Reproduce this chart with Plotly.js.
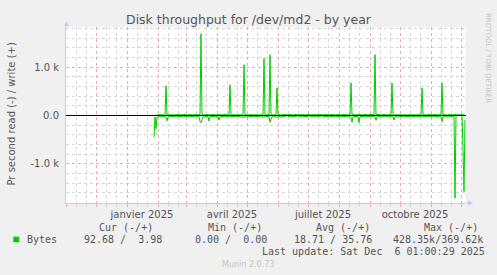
<!DOCTYPE html>
<html>
<head>
<meta charset="utf-8">
<script src="https://cdn.plot.ly/plotly-3.0.1.min.js"></script>
<style>html,body{margin:0;padding:0;background:#f0f0f0;}#chart{width:497px;height:275px;}</style>
</head>
<body>
<div id="chart"></div>
<script>
// ---- data (daily averages, Bytes per second) ----
const rangeStart = '2024-11-01';
const rangeEnd = '2025-12-06';
const firstDataDay = 88; // days after rangeStart
const writeBytes = [
  0, 5, 10, 15, 10, 20, 15, 10, 20, 15,
  10, 20, 613, 15, 10, 20, 15, 10, 20, 15,
  10, 15, 20, 10, 15, 20, 10, 15, 20, 10,
  15, 20, 10, 15, 20, 10, 15, 20, 10, 15,
  20, 10, 15, 20, 10, 15, 20, 1690, 15, 10,
  15, 20, 10, 15, 20, 10, 15, 20, 10, 15,
  20, 10, 15, 20, 10, 15, 20, 10, 15, 20,
  10, 15, 20, 10, 15, 20, 635, 15, 10, 20,
  15, 10, 20, 15, 10, 20, 15, 10, 20, 15,
  1050, 15, 10, 20, 15, 10, 20, 15, 10, 20,
  15, 10, 20, 15, 10, 20, 15, 10, 20, 15,
  1180, 15, 10, 20, 15, 10, 1257, 15, 10, 20,
  15, 10, 20, 567, 15, 10, 20, 15, 10, 20,
  15, 10, 20, 15, 10, 20, 15, 10, 20, 15,
  10, 20, 15, 10, 20, 15, 10, 20, 15, 10,
  20, 15, 10, 20, 15, 10, 20, 15, 10, 20,
  15, 10, 20, 15, 10, 20, 15, 10, 20, 15,
  10, 20, 15, 10, 20, 15, 10, 20, 15, 10,
  20, 15, 10, 20, 15, 10, 20, 15, 10, 20,
  15, 10, 20, 15, 10, 20, 15, 670, 20, 15,
  10, 20, 15, 10, 20, 15, 10, 20, 15, 10,
  20, 15, 10, 20, 15, 10, 20, 15, 10, 20,
  15, 1257, 10, 20, 15, 10, 20, 15, 10, 20,
  15, 10, 20, 15, 10, 20, 15, 10, 670, 15,
  10, 20, 15, 10, 20, 15, 10, 20, 15, 10,
  20, 15, 10, 20, 15, 10, 20, 15, 10, 20,
  15, 10, 20, 15, 10, 20, 15, 10, 567, 15,
  10, 20, 15, 10, 20, 15, 10, 20, 15, 10,
  20, 15, 10, 20, 15, 10, 20, 15, 670, 20,
  15, 10, 20, 15, 10, 20, 15, 10, 20, 15,
  10, 20, 15, 10, 20, 15, 10, 20, 15, 10,
  5, 5
];
const readBytes = [
  455, 30, 275, 40, 30, 20, 25, 30, 20, 25,
  30, 20, 40, 110, 30, 25, 20, 30, 25, 20,
  25, 30, 20, 25, 30, 20, 25, 30, 20, 25,
  30, 20, 25, 30, 20, 25, 30, 20, 25, 30,
  20, 25, 30, 20, 25, 30, 120, 150, 90, 25,
  30, 20, 25, 30, 20, 115, 30, 20, 25, 30,
  20, 25, 30, 20, 25, 95, 30, 20, 25, 30,
  20, 25, 30, 20, 25, 30, 40, 30, 20, 25,
  30, 20, 25, 30, 20, 25, 30, 20, 25, 30,
  40, 25, 30, 20, 25, 30, 20, 25, 30, 20,
  25, 30, 20, 25, 30, 20, 25, 30, 20, 25,
  40, 20, 25, 30, 20, 25, 140, 60, 25, 30,
  20, 25, 30, 40, 25, 30, 20, 25, 30, 20,
  25, 30, 0, 0, 20, 25, 30, 20, 25, 30,
  20, 25, 30, 0, 0, 25, 30, 20, 25, 30,
  20, 25, 30, 20, 25, 0, 0, 30, 20, 25,
  30, 20, 25, 30, 20, 25, 30, 0, 0, 25,
  30, 20, 25, 30, 20, 25, 30, 20, 25, 30,
  20, 25, 30, 20, 25, 30, 20, 25, 30, 20,
  25, 30, 20, 25, 30, 20, 25, 40, 137, 30,
  20, 25, 30, 20, 25, 150, 30, 20, 25, 30,
  20, 25, 30, 20, 25, 30, 20, 25, 30, 20,
  25, 30, 100, 25, 30, 20, 25, 30, 20, 25,
  30, 20, 25, 30, 20, 25, 30, 20, 25, 30,
  95, 25, 30, 20, 25, 30, 20, 25, 30, 20,
  25, 30, 20, 25, 30, 20, 25, 30, 20, 25,
  30, 20, 25, 30, 20, 25, 30, 20, 25, 30,
  20, 25, 30, 20, 25, 30, 20, 25, 30, 20,
  25, 30, 20, 25, 30, 20, 25, 30, 130, 25,
  30, 20, 25, 30, 20, 25, 30, 20, 25, 30,
  20, 1710, 0, 0, 0, 0, 0, 0, 0, 700,
  1573, 90
];
const yTickVals = [-1000, 0, 1000];
const yTickText = ['-1.0 k', '0.0', '1.0 k'];
const xLabelVals = ['2025-01-16', '2025-04-16', '2025-07-16', '2025-10-16'];
const xLabelText = ['janvier 2025', 'avril 2025', 'juillet 2025', 'octobre 2025'];
const legendHead = ['Cur (-/+)', 'Min (-/+)', 'Avg (-/+)', 'Max (-/+)'];
const legendVals = ['92.68 /  3.98', '0.00 /  0.00', '18.71 / 35.76', '428.35k/369.62k'];
const lastUpdate = 'Last update: Sat Dec  6 01:00:29 2025';

// ---- derived ----
function dayToDate(d) {
  return new Date(Date.UTC(2024, 10, 1 + d)).toISOString().slice(0, 10);
}
const dates = writeBytes.map((_, i) => dayToDate(firstDataDay + i));
const readNeg = readBytes.map(v => -v);

// minor grid: 11th and 21st of every month
const minorX = [];
for (let m = 10; m < 10 + 14; m++) {
  for (const dd of [11, 21]) {
    minorX.push(new Date(Date.UTC(2024, m, dd)).toISOString().slice(0, 10));
  }
}
const minorY = [];
for (let v = -1800; v <= 1800; v += 200) if (v % 1000 !== 0) minorY.push(v);

// pixel helpers for layout placement
const PL = 66, PR = 466, PT = 27, PB = 203;
const px = x => (x - PL) / (PR - PL);
const py = y => (PB - y) / (PB - PT);

const GREEN = '#00cc00';
const TXT = '#555555';
const AXC = '#c8c8f8';
const mono = 'DejaVu Sans Mono';

const traces = [
  {x: dates, y: writeBytes, type: 'scatter', mode: 'lines', line: {color: GREEN, width: 1}, hoverinfo: 'skip'},
  {x: dates, y: readNeg, type: 'scatter', mode: 'lines', line: {color: GREEN, width: 1}, hoverinfo: 'skip'},
  {x: xLabelVals, y: [0, 0, 0, 0], xaxis: 'x2', type: 'scatter', mode: 'markers', marker: {opacity: 0}, hoverinfo: 'skip'}
];

const annotations = [];
const headX = [98.3, 206.7, 315, 422.7];
const valX = [82.7, 194.3, 293.3, 392.3];
const nb = s => s.replace(/ /g, '\u00a0');
legendHead.forEach((t, i) => annotations.push({text: nb(t), xref: 'paper', yref: 'paper', x: px(headX[i]), y: py(227.3), xanchor: 'left', yanchor: 'middle', showarrow: false, borderpad: 0, font: {family: mono, size: 10, color: TXT}}));
legendVals.forEach((t, i) => annotations.push({text: nb(t), xref: 'paper', yref: 'paper', x: px(valX[i]), y: py(239.5), xanchor: 'left', yanchor: 'middle', showarrow: false, borderpad: 0, font: {family: mono, size: 10, color: TXT}}));
annotations.push({text: 'Bytes', xref: 'paper', yref: 'paper', x: px(26), y: py(239.5), xanchor: 'left', yanchor: 'middle', showarrow: false, borderpad: 0, font: {family: mono, size: 10, color: TXT}});
annotations.push({text: nb(lastUpdate), xref: 'paper', yref: 'paper', x: px(261), y: py(251.7), xanchor: 'left', yanchor: 'middle', showarrow: false, borderpad: 0, font: {family: mono, size: 10, color: TXT}});
annotations.push({text: 'Munin 2.0.73', xref: 'paper', yref: 'paper', x: px(248), y: py(264), xanchor: 'center', yanchor: 'middle', showarrow: false, borderpad: 0, font: {family: 'DejaVu Sans', size: 8, color: '#c4c4c4'}});
annotations.push({text: 'RRDTOOL / TOBI OETIKER', xref: 'paper', yref: 'paper', x: px(488), y: py(58), xanchor: 'center', yanchor: 'middle', textangle: 90, showarrow: false, borderpad: 0, font: {family: 'DejaVu Sans', size: 7, color: '#c4c4c4'}});
annotations.push({text: 'Pr second read (-) / write (+)', xref: 'paper', yref: 'paper', x: px(11.5), y: py(114), xanchor: 'center', yanchor: 'middle', textangle: -90, showarrow: false, borderpad: 0, font: {family: 'DejaVu Sans', size: 10, color: TXT}});
// axis arrows
annotations.push({text: '', xref: 'paper', yref: 'paper', x: px(66.5), y: py(21), ax: 0, ay: 7, showarrow: true, arrowhead: 2, arrowsize: 1, arrowwidth: 1, arrowcolor: AXC});
annotations.push({text: '', xref: 'paper', yref: 'paper', x: px(473), y: py(203), ax: -8, ay: 0, showarrow: true, arrowhead: 2, arrowsize: 1, arrowwidth: 1, arrowcolor: AXC});

const layout = {
  width: 497, height: 275,
  margin: {l: PL, r: 497 - PR, t: PT, b: 275 - PB, pad: 0},
  paper_bgcolor: '#f0f0f0', plot_bgcolor: '#ffffff',
  font: {family: 'DejaVu Sans', size: 10, color: TXT},
  showlegend: false,
  title: {text: 'Disk throughput for /dev/md2 - by year', x: 0.5, xref: 'container', y: 1 - 19.5 / 275, yref: 'container', xanchor: 'center', yanchor: 'middle', font: {family: 'DejaVu Sans', size: 12.5, color: TXT}},
  xaxis: {
    type: 'date', range: [rangeStart, rangeEnd], fixedrange: true,
    tick0: '2024-11-01', dtick: 'M1', showticklabels: false,
    showgrid: true, gridcolor: '#f2a8a8', griddash: 'dot', gridwidth: 1,
    ticks: 'outside', ticklen: 3, tickcolor: '#f2a8a8',
    minor: {tickmode: 'array', tickvals: minorX, showgrid: true, gridcolor: '#d6d6d6', griddash: 'dot', ticks: 'outside', ticklen: 3, tickcolor: '#d6d6d6'},
    showline: true, linecolor: AXC, linewidth: 1, zeroline: false
  },
  xaxis2: {
    type: 'date', range: [rangeStart, rangeEnd], overlaying: 'x', anchor: 'y', side: 'bottom', fixedrange: true,
    tickmode: 'array', tickvals: xLabelVals, ticktext: xLabelText, ticks: '', showgrid: false, showline: false, zeroline: false,
    tickfont: {family: 'DejaVu Sans', size: 10, color: TXT}, ticklabelstandoff: 4
  },
  yaxis: {
    range: [-1810, 1830], fixedrange: true,
    tickmode: 'array', tickvals: yTickVals, ticktext: yTickText,
    tickfont: {family: 'DejaVu Sans', size: 10, color: TXT},
    showgrid: true, gridcolor: '#f2a8a8', griddash: 'dot', gridwidth: 1,
    ticks: 'inside', ticklen: 2, tickcolor: '#f2a8a8',
    minor: {tickmode: 'array', tickvals: minorY, showgrid: true, gridcolor: '#d6d6d6', griddash: 'dot', ticks: 'inside', ticklen: 2, tickcolor: '#d6d6d6'},
    showline: true, linecolor: AXC, linewidth: 1,
    zeroline: false,
    ticklabelstandoff: 4
  },
  annotations: annotations,
  shapes: [
    // zero axis drawn above the data, like rrdtool
    {type: 'line', xref: 'paper', x0: 0, x1: 1, yref: 'y', y0: 0, y1: 0, layer: 'above', line: {color: '#000000', width: 1}},
    {type: 'rect', xref: 'paper', yref: 'paper', x0: px(13.3), x1: px(19.3), y0: py(236.7), y1: py(242.3), fillcolor: GREEN, line: {width: 0}}
  ]
};

Plotly.newPlot('chart', traces, layout, {displayModeBar: false, staticPlot: true});
</script>
</body>
</html>
